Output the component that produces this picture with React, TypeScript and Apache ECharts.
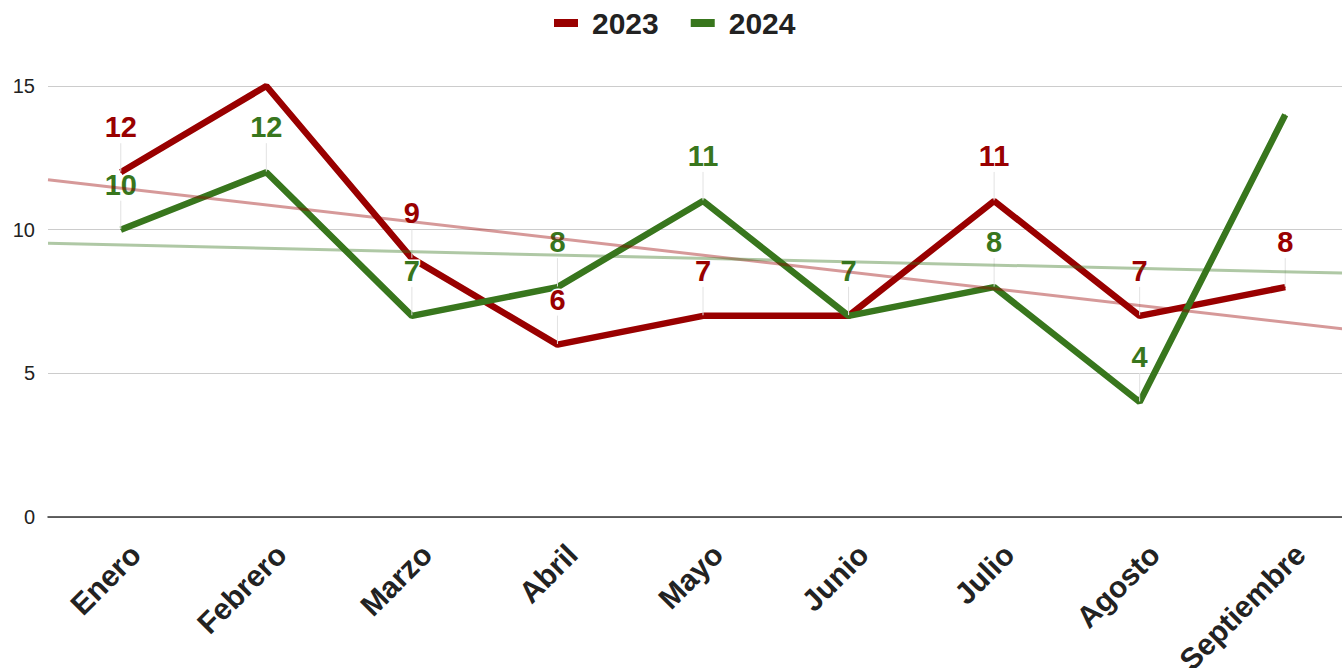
import React, { useEffect, useRef } from "react";
import * as echarts from "echarts";

const categories = ["Enero", "Febrero", "Marzo", "Abril", "Mayo", "Junio", "Julio", "Agosto", "Septiembre"];
const values2023 = [12, 15, 9, 6, 7, 7, 11, 7, 8];
const values2024 = [10, 12, 7, 8, 11, 7, 8, 4, 14];
const hiddenLabels2023 = [1];
const hiddenLabels2024 = [8];
const seriesNames = ["2023", "2024"];
const yMin = 0;
const yMax = 15;
const yInterval = 5;

const RED = "#990000";
const GREEN = "#38761d";
const FONT = "'Liberation Sans', Arial, sans-serif";

function regression(vals: number[]) {
  const n = vals.length;
  const mx = (n - 1) / 2;
  const my = vals.reduce((a, b) => a + b, 0) / n;
  let sxy = 0;
  let sxx = 0;
  vals.forEach((v, i) => {
    sxy += (i - mx) * (v - my);
    sxx += (i - mx) * (i - mx);
  });
  const slope = sxy / sxx;
  const intercept = my - slope * mx;
  const x0 = -0.5;
  const x1 = n - 0.5;
  return [
    [x0, intercept + slope * x0],
    [x1, intercept + slope * x1],
  ];
}

function buildData(vals: number[], hidden: number[]) {
  return vals.map((v, i) =>
    hidden.includes(i) ? { value: v, label: { show: false }, labelLine: { show: false } } : { value: v }
  );
}

function lineSeries(name: string, vals: number[], hidden: number[], color: string) {
  return {
    name,
    type: "line",
    data: buildData(vals, hidden),
    xAxisIndex: 0,
    symbol: "circle",
    symbolSize: 1,
    showSymbol: true,
    showAllSymbol: true,
    itemStyle: { color },
    lineStyle: { color, width: 6.5 },
    label: {
      show: true,
      position: "top",
      distance: 4,
      color,
      fontSize: 29,
      fontWeight: "bold",
      fontFamily: FONT,
      textBorderColor: "#ffffff",
      textBorderWidth: 3,
    },
    labelLayout: { dy: -26 },
    labelLine: { show: true, lineStyle: { color: "#e2e2e2", width: 1 } },
    z: 2,
  };
}

function trendSeries(name: string, vals: number[], color: string) {
  return {
    name: name + " trend",
    type: "line",
    xAxisIndex: 1,
    data: regression(vals),
    symbol: "none",
    lineStyle: { color, width: 3, opacity: 0.4 },
    silent: true,
    z: 3,
  };
}

export default function App() {
  const ref = useRef<HTMLDivElement>(null);
  useEffect(() => {
    if (!ref.current) return;
    const chart = echarts.init(ref.current, undefined, { renderer: "svg" });
    chart.setOption({
      animation: false,
      backgroundColor: "#ffffff",
      legend: {
        top: 3,
        left: 549,
        icon: "rect",
        itemWidth: 24,
        itemHeight: 8,
        itemGap: 32,
        data: [
          { name: seriesNames[0], itemStyle: { color: RED } },
          { name: seriesNames[1], itemStyle: { color: GREEN } },
        ],
        textStyle: {
          fontSize: 30,
          fontWeight: "bold",
          color: "#222222",
          fontFamily: FONT,
          padding: [0, 0, 0, 9],
        },
      },
      grid: {
        left: 48,
        right: -16,
        top: 86,
        bottom: 151,
        containLabel: false,
        outerBoundsMode: "none",
      },
      xAxis: [
        {
          type: "category",
          data: categories,
          boundaryGap: true,
          axisLine: { show: true, lineStyle: { color: "#333333", width: 1.5 } },
          axisTick: { show: false },
          axisLabel: {
            rotate: 45,
            margin: 26,
            fontSize: 30,
            fontWeight: "bold",
            color: "#222222",
            fontFamily: FONT,
            interval: 0,
            verticalAlign: "top",
            padding: [0, -6, 0, 0],
          },
        },
        {
          type: "value",
          min: -0.5,
          max: categories.length - 0.5,
          show: false,
        },
      ],
      yAxis: {
        type: "value",
        min: yMin,
        max: yMax,
        interval: yInterval,
        axisLine: { show: false },
        axisTick: { show: false },
        splitLine: { lineStyle: { color: "#cccccc", width: 1 } },
        axisLabel: {
          margin: 13,
          fontSize: 20,
          color: "#222222",
          fontFamily: FONT,
        },
      },
      series: [
        lineSeries(seriesNames[0], values2023, hiddenLabels2023, RED),
        lineSeries(seriesNames[1], values2024, hiddenLabels2024, GREEN),
        trendSeries(seriesNames[0], values2023, RED),
        trendSeries(seriesNames[1], values2024, GREEN),
      ],
    });
    return () => chart.dispose();
  }, []);
  return <div ref={ref} style={{ position: "fixed", left: 0, top: 0, width: 1342, height: 668 }} />;
}
